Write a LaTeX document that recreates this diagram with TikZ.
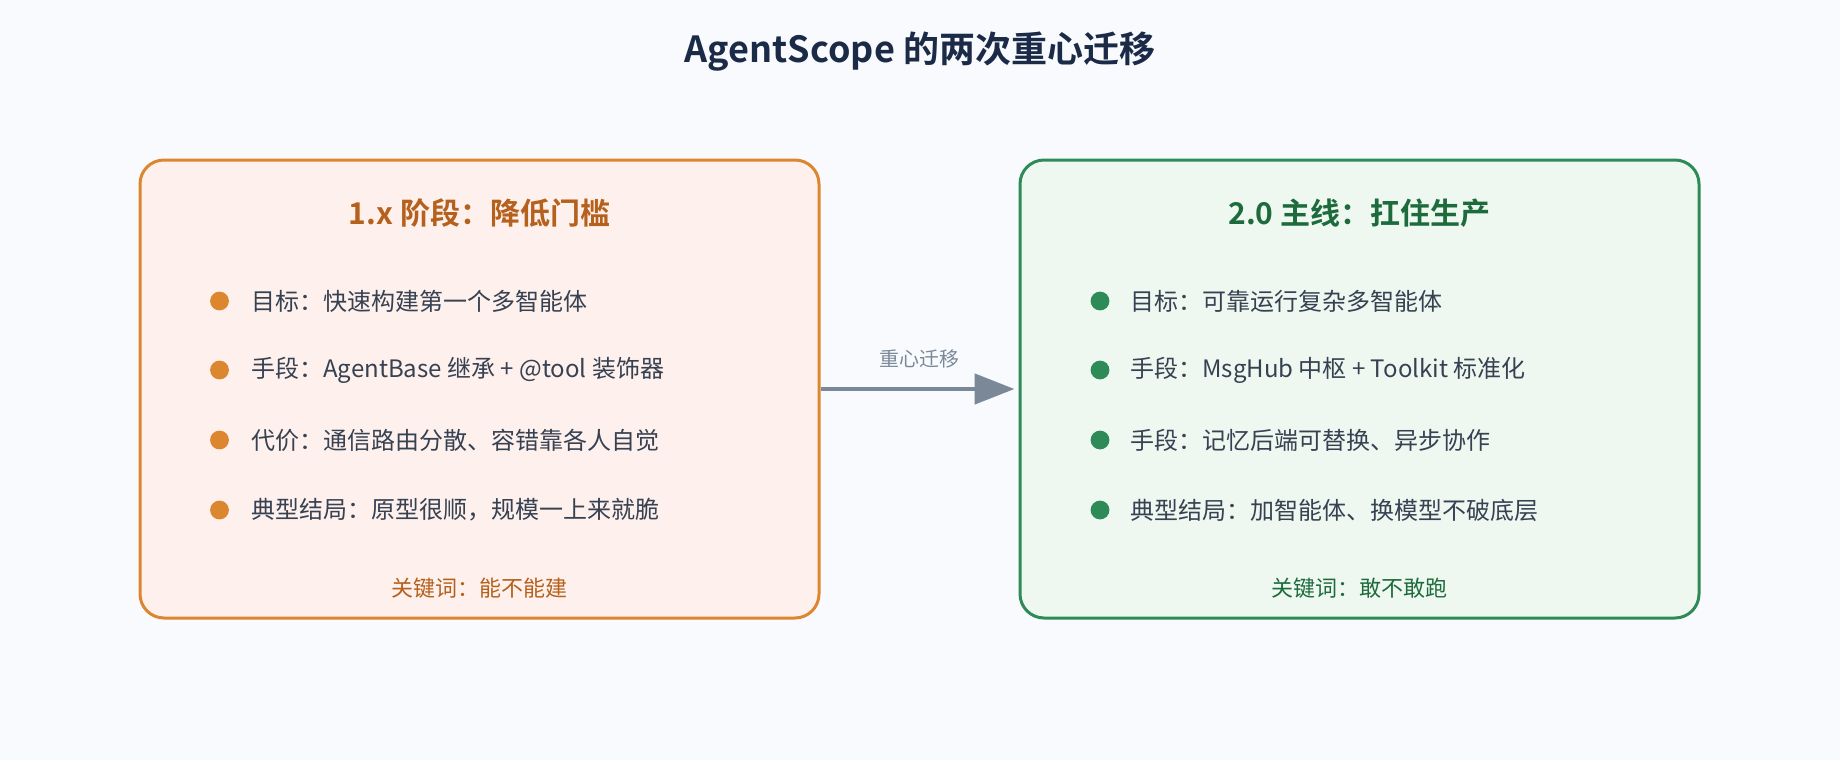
\documentclass[tikz,border=0pt]{standalone}
\usepackage{fontspec}
\setmainfont{Noto Sans CJK SC}[BoldFont={Noto Sans CJK SC Bold}]
\usetikzlibrary{arrows.meta}
\definecolor{bg}{HTML}{F8FAFE}
\definecolor{ink}{HTML}{1B2A47}
\definecolor{body}{HTML}{364152}
\definecolor{oline}{HTML}{DD8630}
\definecolor{ofill}{HTML}{FEF0EC}
\definecolor{ohead}{HTML}{B5601C}
\definecolor{gline}{HTML}{2E8B57}
\definecolor{gfill}{HTML}{EEF8F0}
\definecolor{ghead}{HTML}{1D6B3C}
\definecolor{movegray}{HTML}{7A8898}
\tikzset{
  stage/.style={draw=#1,line width=1.5pt,rounded corners=12pt,
    minimum width=339.5pt,minimum height=229pt,inner sep=0pt},
  head/.style={text=#1,font=\fontsize{15}{18}\selectfont\bfseries},
  item/.style={anchor=west,inner sep=0pt,text=body,font=\fontsize{12}{14}\selectfont},
  keyw/.style={text=#1,font=\fontsize{11}{13}\selectfont},
}
\begin{document}
\begin{tikzpicture}[x=0.5pt,y=-0.5pt]
\fill[bg] (0,0) rectangle (1840,760);
\useasboundingbox (0,0) rectangle (1840,760);
\node[text=ink,font=\fontsize{18}{22}\selectfont\bfseries] (title) at (920,52) {AgentScope 的两次重心迁移};
% 1.x
\node[stage=oline,fill=ofill] (old) at (479.5,389) {};
\node[head=ohead] (oldhead) at (479.5,213) {1.x 阶段：降低门槛};
\fill[oline] (219.5,301) circle (4.7pt);
\node[item] (old1) at (251,301) {目标：快速构建第一个多智能体};
\fill[oline] (219.5,370) circle (4.7pt);
\node[item] (old2) at (251,370) {手段：AgentBase 继承 + @tool 装饰器};
\fill[oline] (219.5,440) circle (4.7pt);
\node[item] (old3) at (251,440) {代价：通信路由分散、容错靠各人自觉};
\fill[oline] (219.5,510) circle (4.7pt);
\node[item] (old4) at (251,510) {典型结局：原型很顺，规模一上来就脆};
\node[keyw=ohead] (oldkey) at (479.5,588) {关键词：能不能建};
% 2.0
\node[stage=gline,fill=gfill] (new) at (1359.5,389) {};
\node[head=ghead] (newhead) at (1359.5,213) {2.0 主线：扛住生产};
\fill[gline] (1100,301) circle (4.7pt);
\node[item] (new1) at (1130,301) {目标：可靠运行复杂多智能体};
\fill[gline] (1100,370) circle (4.7pt);
\node[item] (new2) at (1130,370) {手段：MsgHub 中枢 + Toolkit 标准化};
\fill[gline] (1100,440) circle (4.7pt);
\node[item] (new3) at (1130,440) {手段：记忆后端可替换、异步协作};
\fill[gline] (1100,510) circle (4.7pt);
\node[item] (new4) at (1130,510) {典型结局：加智能体、换模型不破底层};
\node[keyw=ghead] (newkey) at (1359.5,588) {关键词：敢不敢跑};
% shift
\draw[movegray,line width=2.4pt,-{Triangle[length=20pt,width=15pt]},shorten >=2pt] (old.east) -- (new.west)
  node[midway,above=6pt,text=movegray,font=\fontsize{10}{12}\selectfont] (movelabel) {重心迁移};
\end{tikzpicture}
\end{document}
